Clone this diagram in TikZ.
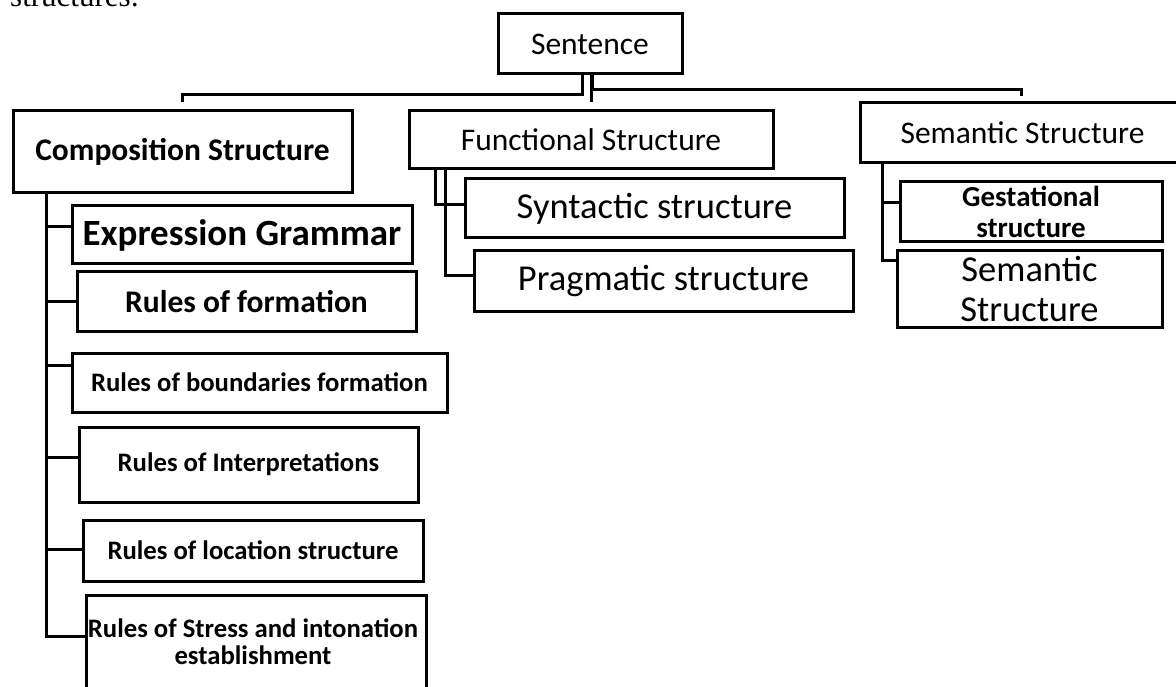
\documentclass[tikz,border=0pt]{standalone}
\usepackage{fontspec}
\setmainfont{Carlito}
\newfontfamily\introserif{Liberation Serif}
\newcommand{\fs}[2]{\fontsize{#1}{#2}\selectfont}
\begin{document}
\begin{tikzpicture}[x=1pt,y=-1pt,
  box/.style={draw=black, line width=3pt, inner sep=0pt, align=center, fill=none},
  conn/.style={draw=black, line width=3pt},
  reg/.style={font=\fs{31.5}{38}},
  regbig/.style={font=\fs{36.5}{40}},
  boldmid/.style={font=\fs{31.5}{38}\bfseries},
  boldsmall/.style={font=\fs{26.7}{28}\bfseries}]
\useasboundingbox (0,0) rectangle (1176,687);
\clip (0,0) rectangle (1176,687);

% intro text (cut off at top)
\node[anchor=base west, inner sep=0pt, font=\introserif\fs{31}{36}] (intro) at (10,7) {structures:};

% top
\node[box, reg, minimum width=184pt, minimum height=60pt] (sent) at (590,44) {Sentence};

% level 1
\node[box, boldmid, minimum width=339pt, minimum height=82pt] (comp) at (182.5,152) {Composition Structure};
\node[box, reg, minimum width=364pt, minimum height=58pt] (func) at (591,140) {Functional Structure};
\node[box, reg, minimum width=325pt, minimum height=60pt] (sem) at (1022.5,133) {Semantic Structure};

% composition children
\node[box, font=\fs{37}{42}\bfseries, minimum width=340pt, minimum height=58pt] (expr) at (242,235) {Expression Grammar};
\node[box, boldmid, minimum width=339pt, minimum height=59pt] (form) at (246.5,301.5) {Rules of formation};
\node[box, boldsmall, minimum width=375pt, minimum height=59pt] (bound) at (259.5,382.5) {Rules of boundaries formation};
\node[box, boldsmall, minimum width=339pt, minimum height=75pt] (interp) at (248.5,464.5) {Rules of Interpretations};
\node[box, boldsmall, minimum width=340pt, minimum height=61pt] (loc) at (253,550.5) {Rules of location structure};
\node[box, anchor=north, minimum width=340pt, minimum height=130pt] (stressbox) at (256,594) {};
\node[align=center, inner sep=0pt, anchor=base, font=\fs{26.7}{27}\bfseries] (stress) at (253,664) {Rules of Stress and intonation\\ establishment};

% functional children
\node[box, regbig, minimum width=379pt, minimum height=59pt] (syn) at (654.5,208.5) {Syntactic structure};
\node[box, regbig, minimum width=379pt, minimum height=60pt] (prag) at (663.5,281) {Pragmatic structure};

% semantic children
\node[box, font=\fs{29}{31}\bfseries, minimum width=262pt, minimum height=60pt] (gest) at (1031,212) {Gestational\\ structure};
\node[box, regbig, minimum width=265pt, minimum height=76pt] (sem2) at (1029.5,289) {Semantic\\ Structure};

% connectors from Sentence
\draw[conn] ([xshift=-8pt]sent.south) -- ++(0,19) -| ([yshift=7pt]comp.north);
\draw[conn] ([xshift=2pt]sent.south) -- ++(0,14) -| ([xshift=-1.5pt,yshift=5pt]sem.north);
\draw[conn] ([xshift=1pt]sent.south) -- ([yshift=7pt]func.north);

% composition trunk
\draw[conn] ([xshift=35pt]comp.south west) |- ([yshift=8pt]expr.west);
\draw[conn] ([xshift=35pt]comp.south west) |- (form.west);
\draw[conn] ([xshift=35pt]comp.south west) |- ([yshift=17.5pt]bound.west);
\draw[conn] ([xshift=35pt]comp.south west) |- ([yshift=7.5pt]interp.west);
\draw[conn] ([xshift=35pt]comp.south west) |- ([yshift=1.5pt]loc.west);
\draw[conn] ([xshift=35pt]comp.south west) |- ([yshift=-42pt]stressbox.north west);

% functional
\draw[conn] ([xshift=28pt]func.south west) |- ([yshift=3.5pt]syn.west);
\draw[conn] ([xshift=38pt]func.south west) |- ([yshift=5pt]prag.west);

% semantic
\draw[conn] ([xshift=24pt]sem.south west) |- ([yshift=9pt]gest.west);
\draw[conn] ([xshift=24pt]sem.south west) |- ([yshift=28pt]sem2.west);
\end{tikzpicture}
\end{document}
